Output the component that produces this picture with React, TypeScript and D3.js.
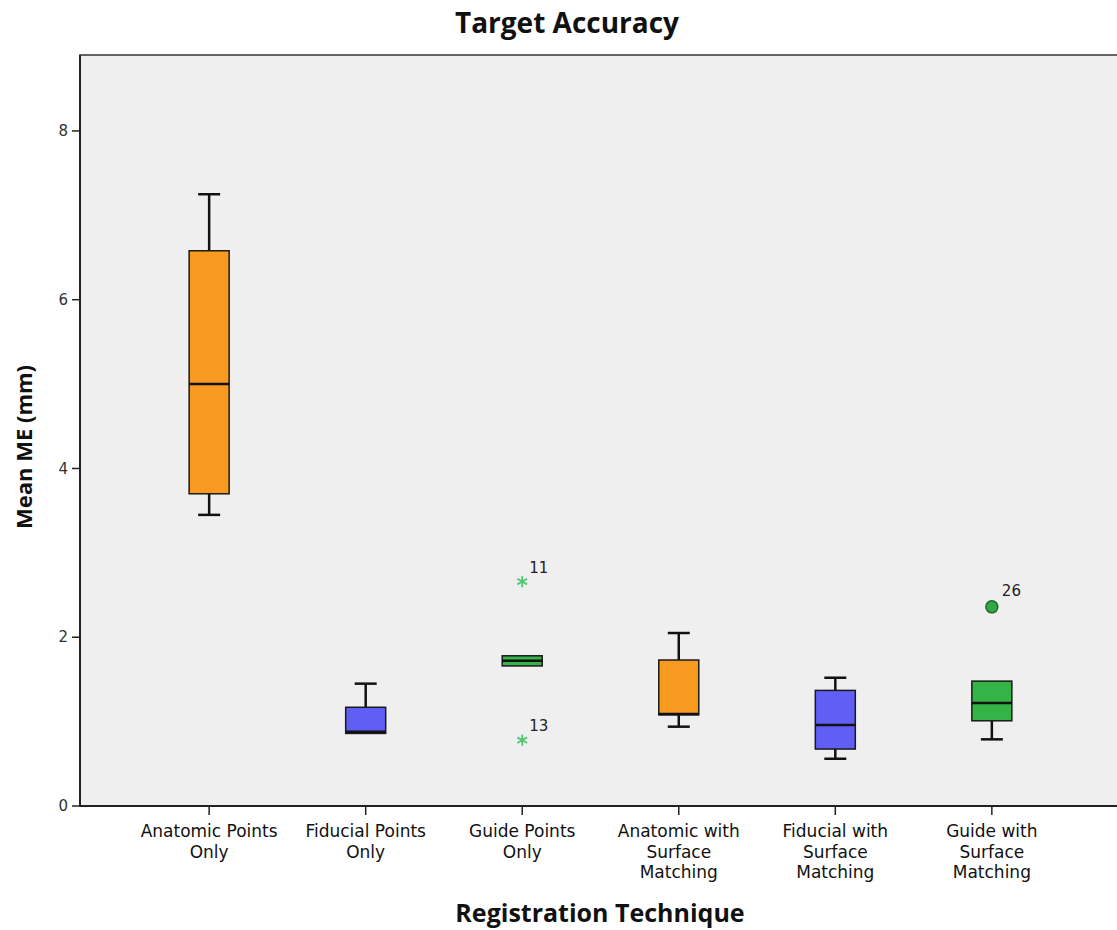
import * as d3 from 'd3';

const categories = [
  'Anatomic Points Only',
  'Fiducial Points Only',
  'Guide Points Only',
  'Anatomic with Surface Matching',
  'Fiducial with Surface Matching',
  'Guide with Surface Matching',
];
const labelLines = [
  ['Anatomic Points', 'Only'],
  ['Fiducial Points', 'Only'],
  ['Guide Points', 'Only'],
  ['Anatomic with', 'Surface', 'Matching'],
  ['Fiducial with', 'Surface', 'Matching'],
  ['Guide with', 'Surface', 'Matching'],
];
const markerKind = ['anatomic', 'fiducial', 'guide', 'anatomic', 'fiducial', 'guide'];

const whiskerLow = [3.45, 0.86, 1.66, 0.94, 0.56, 0.79];
const q1 = [3.7, 0.86, 1.66, 1.08, 0.675, 1.01];
const median = [5.0, 0.88, 1.72, 1.09, 0.96, 1.22];
const q3 = [6.58, 1.17, 1.78, 1.73, 1.37, 1.48];
const whiskerHigh = [7.25, 1.45, 1.78, 2.05, 1.52, 1.48];

const outlierCat = [2, 2, 5];
const outlierValue = [2.66, 0.78, 2.36];
const outlierLabel = ['11', '13', '26'];
const outlierType = ['extreme', 'extreme', 'mild'];

const yTicks = [0, 2, 4, 6, 8];

const COLORS: Record<string, string> = {
  anatomic: '#f89a1f',
  fiducial: '#5f5ff6',
  guide: '#34b346',
};

const W = 1117;
const H = 930;
const LEFT = 80;
const RIGHT = 1121;
const TOP = 55;
const BOTTOM = 806;
const BOX_W = 40;
const CAP_W = 22;

export default function App() {
  const x = d3.scalePoint<string>().domain(categories).range([LEFT, RIGHT]).padding(0.825);
  const y = d3.scaleLinear().domain([0, 8.9]).range([BOTTOM, TOP]);
  const star = d3.symbol().type(d3.symbolAsterisk).size(90)() ?? '';

  return (
    <svg
      width={W}
      height={H}
      viewBox={`0 0 ${W} ${H}`}
      style={{ position: 'absolute', left: 0, top: 0, background: '#fff' }}
    >
      <text
        x={567}
        y={33}
        textAnchor="middle"
        fontFamily="'Open Sans', sans-serif"
        fontWeight={700}
        fontSize={28}
        fill="#111"
      >
        Target Accuracy
      </text>

      <rect x={LEFT} y={TOP} width={RIGHT - LEFT} height={BOTTOM - TOP} fill="#efefef" stroke="#333" strokeWidth={1.5} />
      <line x1={LEFT} x2={LEFT} y1={TOP} y2={BOTTOM} stroke="#222" strokeWidth={2} />
      <line x1={LEFT} x2={RIGHT} y1={BOTTOM} y2={BOTTOM} stroke="#222" strokeWidth={2} />

      {yTicks.map((t) => (
        <g key={t}>
          <line x1={LEFT - 8} x2={LEFT} y1={y(t)} y2={y(t)} stroke="#222" strokeWidth={1.5} />
          <text
            x={LEFT - 12}
            y={y(t)}
            dy="0.35em"
            textAnchor="end"
            fontFamily="'DejaVu Sans', sans-serif"
            fontSize={15}
            fill="#333"
          >
            {t}
          </text>
        </g>
      ))}

      {categories.map((c, i) => {
        const cx = x(c) ?? 0;
        return (
          <g key={c}>
            <line x1={cx} x2={cx} y1={BOTTOM} y2={BOTTOM + 9} stroke="#222" strokeWidth={1.5} />
            {labelLines[i].map((l, j) => (
              <text
                key={j}
                x={cx}
                y={837 + j * 20.6}
                textAnchor="middle"
                fontFamily="'DejaVu Sans', sans-serif"
                fontSize={17}
                fill="#111"
              >
                {l}
              </text>
            ))}
          </g>
        );
      })}

      {categories.map((c, i) => {
        const cx = x(c) ?? 0;
        const fill = COLORS[markerKind[i]];
        return (
          <g key={c}>
            {whiskerHigh[i] > q3[i] && (
              <>
                <line x1={cx} x2={cx} y1={y(q3[i])} y2={y(whiskerHigh[i])} stroke="#111" strokeWidth={2.5} />
                <line x1={cx - CAP_W / 2} x2={cx + CAP_W / 2} y1={y(whiskerHigh[i])} y2={y(whiskerHigh[i])} stroke="#111" strokeWidth={2.5} />
              </>
            )}
            {whiskerLow[i] < q1[i] && (
              <>
                <line x1={cx} x2={cx} y1={y(q1[i])} y2={y(whiskerLow[i])} stroke="#111" strokeWidth={2.5} />
                <line x1={cx - CAP_W / 2} x2={cx + CAP_W / 2} y1={y(whiskerLow[i])} y2={y(whiskerLow[i])} stroke="#111" strokeWidth={2.5} />
              </>
            )}
            <rect
              x={cx - BOX_W / 2}
              y={y(q3[i])}
              width={BOX_W}
              height={y(q1[i]) - y(q3[i])}
              fill={fill}
              stroke="#1a1a1a"
              strokeWidth={1.5}
            />
            <line x1={cx - BOX_W / 2} x2={cx + BOX_W / 2} y1={y(median[i])} y2={y(median[i])} stroke="#111" strokeWidth={2.5} />
          </g>
        );
      })}

      {outlierCat.map((ci, k) => {
        const cx = x(categories[ci]) ?? 0;
        const cy = y(outlierValue[k]);
        const extreme = outlierType[k] === 'extreme';
        return (
          <g key={k}>
            {extreme ? (
              <path d={star} transform={`translate(${cx},${cy})`} fill="none" stroke="#52c873" strokeWidth={1.8} />
            ) : (
              <circle cx={cx} cy={cy} r={6} fill="#33a845" stroke="#1f6a2a" strokeWidth={1.5} />
            )}
            <text
              x={cx + (extreme ? 7 : 10)}
              y={cy - (extreme ? 9 : 11)}
              fontFamily="'DejaVu Sans', sans-serif"
              fontSize={15}
              fill="#222"
            >
              {outlierLabel[k]}
            </text>
          </g>
        );
      })}

      <text
        transform={`translate(32,447) rotate(-90)`}
        textAnchor="middle"
        fontFamily="'Open Sans', sans-serif"
        fontWeight={700}
        fontSize={22}
        fill="#111"
      >
        Mean ME (mm)
      </text>
      <text
        x={600}
        y={922}
        textAnchor="middle"
        fontFamily="'Open Sans', sans-serif"
        fontWeight={700}
        fontSize={25}
        fill="#111"
      >
        Registration Technique
      </text>
    </svg>
  );
}
